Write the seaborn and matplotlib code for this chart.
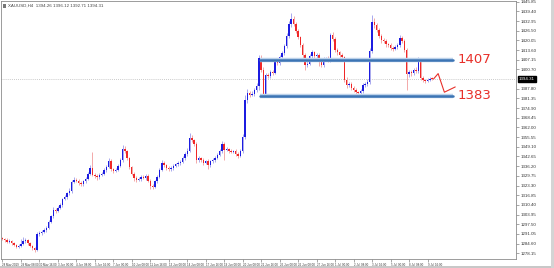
import numpy as np
import pandas as pd
import matplotlib
matplotlib.use("Agg")
import matplotlib.pyplot as plt
import seaborn as sns

# ---------------- data ----------------
first_open = 1288.2
closes = [
    1287.5, 1286.8, 1285.6, 1286.2, 1284.9, 1283.6, 1282.4, 1283.0, 1284.6, 1286.0,
    1286.9, 1285.0, 1282.8, 1281.5, 1280.4, 1290.8, 1291.5, 1292.6, 1293.4, 1295.2,
    1299.0, 1302.8, 1307.0, 1306.4, 1308.6, 1310.4, 1314.2, 1315.6, 1318.0, 1319.4,
    1325.6, 1327.2, 1326.4, 1325.0, 1324.2, 1326.0, 1327.8, 1331.0, 1335.0, 1330.4,
    1329.6, 1328.8, 1330.6, 1331.2, 1333.4, 1335.8, 1339.6, 1334.0, 1333.2, 1333.6,
    1336.4, 1340.0, 1347.6, 1346.0, 1341.6, 1335.4, 1331.2, 1328.2, 1327.0, 1327.6,
    1329.0, 1328.6, 1329.8, 1326.6, 1323.0, 1322.4, 1326.2, 1329.2, 1333.8, 1338.4,
    1336.8, 1335.2, 1334.2, 1335.0, 1336.6, 1337.4, 1338.4, 1339.2, 1341.6, 1344.2,
    1346.4, 1355.0, 1353.4, 1351.0, 1340.4, 1341.4, 1340.2, 1338.6, 1339.6, 1337.0,
    1339.4, 1340.2, 1341.8, 1343.6, 1346.4, 1351.0, 1347.2, 1347.8, 1346.6, 1345.8,
    1346.2, 1344.4, 1343.0, 1346.2, 1355.6, 1380.4, 1385.0, 1383.8, 1384.4, 1387.0,
    1389.8, 1408.2, 1400.6, 1384.4, 1397.0, 1396.2, 1399.0, 1398.4, 1405.6, 1404.8,
    1409.0, 1411.4, 1416.2, 1423.0, 1431.0, 1434.4, 1431.0, 1426.4, 1422.0, 1417.0,
    1410.2, 1403.8, 1404.6, 1409.4, 1412.2, 1409.6, 1410.4, 1405.8, 1403.6, 1407.4,
    1408.2, 1407.0, 1423.6, 1421.0, 1413.6, 1412.0, 1410.4, 1408.8, 1393.8, 1390.4,
    1391.2, 1388.6, 1387.0, 1385.6, 1385.0, 1386.0, 1390.2, 1391.0, 1392.4, 1413.0,
    1432.4, 1430.2, 1427.0, 1422.8, 1420.4, 1419.6, 1417.4, 1416.8, 1415.2, 1414.6,
    1415.4, 1417.0, 1421.6, 1419.8, 1413.6, 1397.6, 1399.0, 1398.2, 1400.6, 1399.4,
    1407.2, 1395.2, 1393.6, 1393.0, 1393.8, 1394.6, 1394.3,
]
upper_wicks = [
    1.0, 0.8, 1.2, 1.5, 0.6, 0.9, 0.7, 1.4, 3.2, 3.0,
    1.6, 0.9, 0.8, 1.1, 0.7, 1.2, 1.4, 1.0, 1.6, 0.8,
    1.2, 0.9, 1.8, 1.5, 1.0, 1.3, 0.8, 1.6, 1.1, 2.0,
    1.4, 1.8, 1.2, 0.9, 1.5, 1.1, 1.3, 1.6, 2.2, 10.6,
    1.0, 1.4, 1.2, 0.8, 1.5, 1.1, 2.0, 1.4, 0.9, 1.2,
    1.1, 1.6, 2.4, 1.8, 1.0, 0.8, 1.2, 0.9, 1.4, 1.1,
    1.5, 1.2, 1.0, 0.9, 1.1, 1.3, 1.0, 1.4, 1.2, 1.8,
    1.4, 0.9, 1.1, 1.3, 1.0, 0.8, 1.2, 1.1, 1.5, 1.3,
    1.6, 3.4, 2.0, 1.2, 1.0, 1.5, 1.1, 1.3, 0.9, 1.2,
    1.0, 1.2, 0.9, 1.3, 1.1, 1.8, 1.6, 1.0, 0.8, 1.1,
    0.9, 1.2, 1.0, 1.6, 2.0, 3.2, 2.4, 1.4, 1.6, 1.2,
    1.6, 2.0, 1.8, 1.5, 1.4, 1.2, 1.6, 1.1, 1.3, 1.5,
    1.2, 1.6, 1.4, 1.8, 2.0, 3.9, 2.2, 1.6, 1.4, 1.2,
    1.4, 1.2, 1.5, 1.3, 1.6, 1.0, 1.4, 1.2, 1.1, 1.3,
    1.0, 1.2, 1.6, 2.0, 1.4, 1.2, 1.0, 1.3, 1.1, 1.6,
    1.4, 1.1, 1.2, 1.3, 1.0, 1.4, 1.2, 1.5, 1.6, 2.0,
    4.6, 2.4, 1.6, 1.4, 1.2, 1.5, 1.3, 1.1, 1.4, 1.2,
    1.3, 1.4, 1.8, 1.2, 1.4, 1.6, 1.2, 1.4, 1.3, 1.5,
    1.8, 1.4, 1.2, 1.0, 1.3, 1.1, 0.9,
]
lower_wicks = [
    0.8, 1.0, 0.6, 0.9, 1.2, 0.7, 1.1, 0.8, 0.6, 1.0,
    0.9, 1.2, 0.7, 1.0, 1.4, 0.8, 0.9, 1.3, 0.7, 1.0,
    1.1, 0.8, 0.9, 1.4, 0.7, 1.0, 1.2, 0.8, 1.3, 0.9,
    1.2, 0.8, 1.0, 1.6, 0.9, 1.3, 0.8, 1.1, 0.9, 1.0,
    1.3, 1.5, 0.9, 1.1, 0.8, 1.0, 0.7, 1.2, 1.4, 0.9,
    0.8, 1.0, 1.3, 0.9, 1.2, 1.4, 1.0, 1.6, 1.2, 0.9,
    1.0, 0.8, 1.3, 1.1, 1.8, 1.6, 0.9, 1.1, 0.8, 1.0,
    1.1, 1.3, 0.9, 1.0, 1.2, 0.8, 1.1, 1.4, 0.9, 1.0,
    0.9, 1.1, 1.0, 1.4, 1.8, 1.2, 1.0, 1.5, 1.2, 2.4,
    1.2, 0.9, 1.1, 1.0, 0.8, 1.2, 6.8, 1.0, 1.3, 0.9,
    1.1, 1.4, 1.6, 1.0, 1.2, 1.5, 1.8, 1.3, 1.0, 1.4,
    1.2, 3.0, 1.4, 1.1, 1.6, 1.3, 1.2, 1.5, 1.0, 1.4,
    1.3, 1.0, 1.4, 1.2, 1.5, 1.8, 1.6, 1.3, 1.2, 1.4,
    1.6, 3.6, 1.4, 1.2, 1.5, 1.3, 1.6, 2.8, 1.4, 1.2,
    1.3, 1.4, 1.2, 1.6, 1.3, 1.5, 1.2, 1.4, 1.6, 1.8,
    1.2, 1.5, 1.3, 2.6, 1.4, 1.2, 1.3, 1.1, 1.2, 1.4,
    1.5, 1.6, 1.3, 1.4, 1.8, 1.2, 1.5, 1.3, 1.6, 1.4,
    1.2, 1.3, 1.4, 1.5, 1.2, 10.6, 2.0, 1.6, 1.4, 1.3,
    1.4, 1.6, 1.3, 1.2, 1.0, 1.1, 0.8,
]
x_tick_labels = [
    "28 May 2019", "29 May 08:00", "30 May 16:00", "3 Jun 00:00", "4 Jun 08:00",
    "5 Jun 16:00", "7 Jun 00:00", "10 Jun 08:00", "11 Jun 16:00", "13 Jun 00:00",
    "14 Jun 08:00", "17 Jun 16:00", "19 Jun 00:00", "20 Jun 08:00", "21 Jun 16:00",
    "25 Jun 00:00", "26 Jun 08:00", "27 Jun 16:00", "1 Jul 00:00", "2 Jul 08:00",
    "3 Jul 16:00", "5 Jul 00:00", "8 Jul 08:00", "9 Jul 16:00",
]
y_tick_values = [
    1445.85, 1439.40, 1432.95, 1426.50, 1420.05, 1413.60, 1407.15, 1400.70,
    1387.80, 1381.35, 1374.90, 1368.45, 1362.00, 1355.55, 1349.10, 1342.65,
    1336.20, 1329.75, 1323.30, 1316.85, 1310.40, 1303.95, 1297.50, 1291.05,
    1284.60, 1278.15,
]
current_price = 1394.31
levels = [1407, 1383]
level_labels = ["1407", "1383"]
arrow_x = [186.6, 188.6, 191.3, 196.0]
arrow_y = [1394.3, 1397.9, 1385.5, 1389.0]
header = "XAUUSD,H4  1394.26 1396.12 1392.71 1394.31"

# ---------------- build frame ----------------
opens = [first_open] + closes[:-1]
df = pd.DataFrame({"open": opens, "close": closes,
                   "up": upper_wicks, "dn": lower_wicks})
df["bar"] = np.arange(len(df))
df["top"] = df[["open", "close"]].max(axis=1)
df["bot"] = df[["open", "close"]].min(axis=1)
df["high"] = df["top"] + df["up"]
df["low"] = df["bot"] - df["dn"]
df["bull"] = df["close"] >= df["open"]

sns.set_theme(style="white")
plt.rcParams["font.family"] = ["Liberation Sans", "DejaVu Sans"]

W, H = 554, 268
fig = plt.figure(figsize=(W / 100, H / 100), dpi=100)
ax = fig.add_axes([1 / W, 1 - 259 / H, 515 / W, 258 / H])

body_col = np.where(df["bull"], "#1c1ce0", "#f02828")
wick_col = np.where(df["bull"], "#a9a9ee", "#f3a9a9")

ax.vlines(df["bar"], df["low"], df["high"], colors=wick_col, lw=0.7, zorder=2)
heights = np.maximum(df["top"] - df["bot"], 0.35)
ax.bar(df["bar"], heights, bottom=df["bot"], width=0.62, color=body_col,
       linewidth=0, zorder=3)

# current price dotted line
ax.axhline(current_price, color="#b8b8b8", lw=0.6, ls=(0, (1, 1.5)), zorder=1)

# support / resistance levels
lvl_df = pd.DataFrame({"x": [111.3, 195.2] * 2,
                       "y": [levels[0], levels[0], levels[1], levels[1]],
                       "lvl": ["a", "a", "b", "b"]})
for lv in ["a", "b"]:
    sub = lvl_df[lvl_df["lvl"] == lv]
    ax.plot(sub["x"], sub["y"], color="#bcd2ea", lw=3.2, zorder=4,
            solid_capstyle="butt")
    sns.lineplot(data=sub, x="x", y="y", ax=ax, color="#3c74b4", lw=1.8,
                 zorder=5, legend=False)
for lv, lab in zip(levels, level_labels):
    ax.text(196.8, lv, lab, color="#e8302a", fontsize=9.5, va="center",
            ha="left", zorder=6, family=["DejaVu Sans"])

# hand drawn zigzag
ax.plot(arrow_x, arrow_y, color="#e8302a", lw=0.8, zorder=6)

ax.set_xlim(-0.6, 222.3)
ax.set_ylim(1274.3, 1446.3)
ax.set_xlabel("")
ax.set_ylabel("")

# axes styling
for s in ax.spines.values():
    s.set_color("#8c8c8c")
    s.set_linewidth(0.6)
ax.yaxis.tick_right()
ax.set_yticks(y_tick_values)
ax.set_yticklabels([f"{v:.2f}" for v in y_tick_values])
ax.tick_params(axis="y", which="both", right=True, length=2, width=0.4,
               color="#666666", labelsize=3.2, labelcolor="#333333", pad=1.5)
ax.set_xticks(np.arange(len(x_tick_labels)) * 8)
ax.set_xticklabels(x_tick_labels, ha="left")
ax.tick_params(axis="x", which="both", bottom=True, length=2, width=0.4,
               color="#666666", labelsize=2.1, labelcolor="#333333", pad=0.8)

# current price box on the right axis
ax.annotate(f"{current_price:.2f}", xy=(1.0, current_price),
            xycoords=("axes fraction", "data"), xytext=(2, 0),
            textcoords="offset points", fontsize=3.2, color="white",
            va="center", ha="left",
            bbox=dict(boxstyle="square,pad=0.25", fc="black", ec="black"))

# header
fig.text(8 / W, 1 - 5.5 / H, header, fontsize=3.2, color="#444444",
         va="center", ha="left")
fig.patches.append(plt.Rectangle((2.5 / W, 1 - 8 / H), 3.5 / W, 3.5 / H,
                                 transform=fig.transFigure, fc="#777777",
                                 ec="none"))
# bottom / right window strips
fig.patches.append(plt.Rectangle((0, 0), 1, 2.5 / H, transform=fig.transFigure,
                                 fc="#c8c8c8", ec="none"))
fig.patches.append(plt.Rectangle((551 / W, 0), 3 / W, 1, transform=fig.transFigure,
                                 fc="#d4d4d4", ec="none"))

fig.savefig("out.png", dpi=100)
